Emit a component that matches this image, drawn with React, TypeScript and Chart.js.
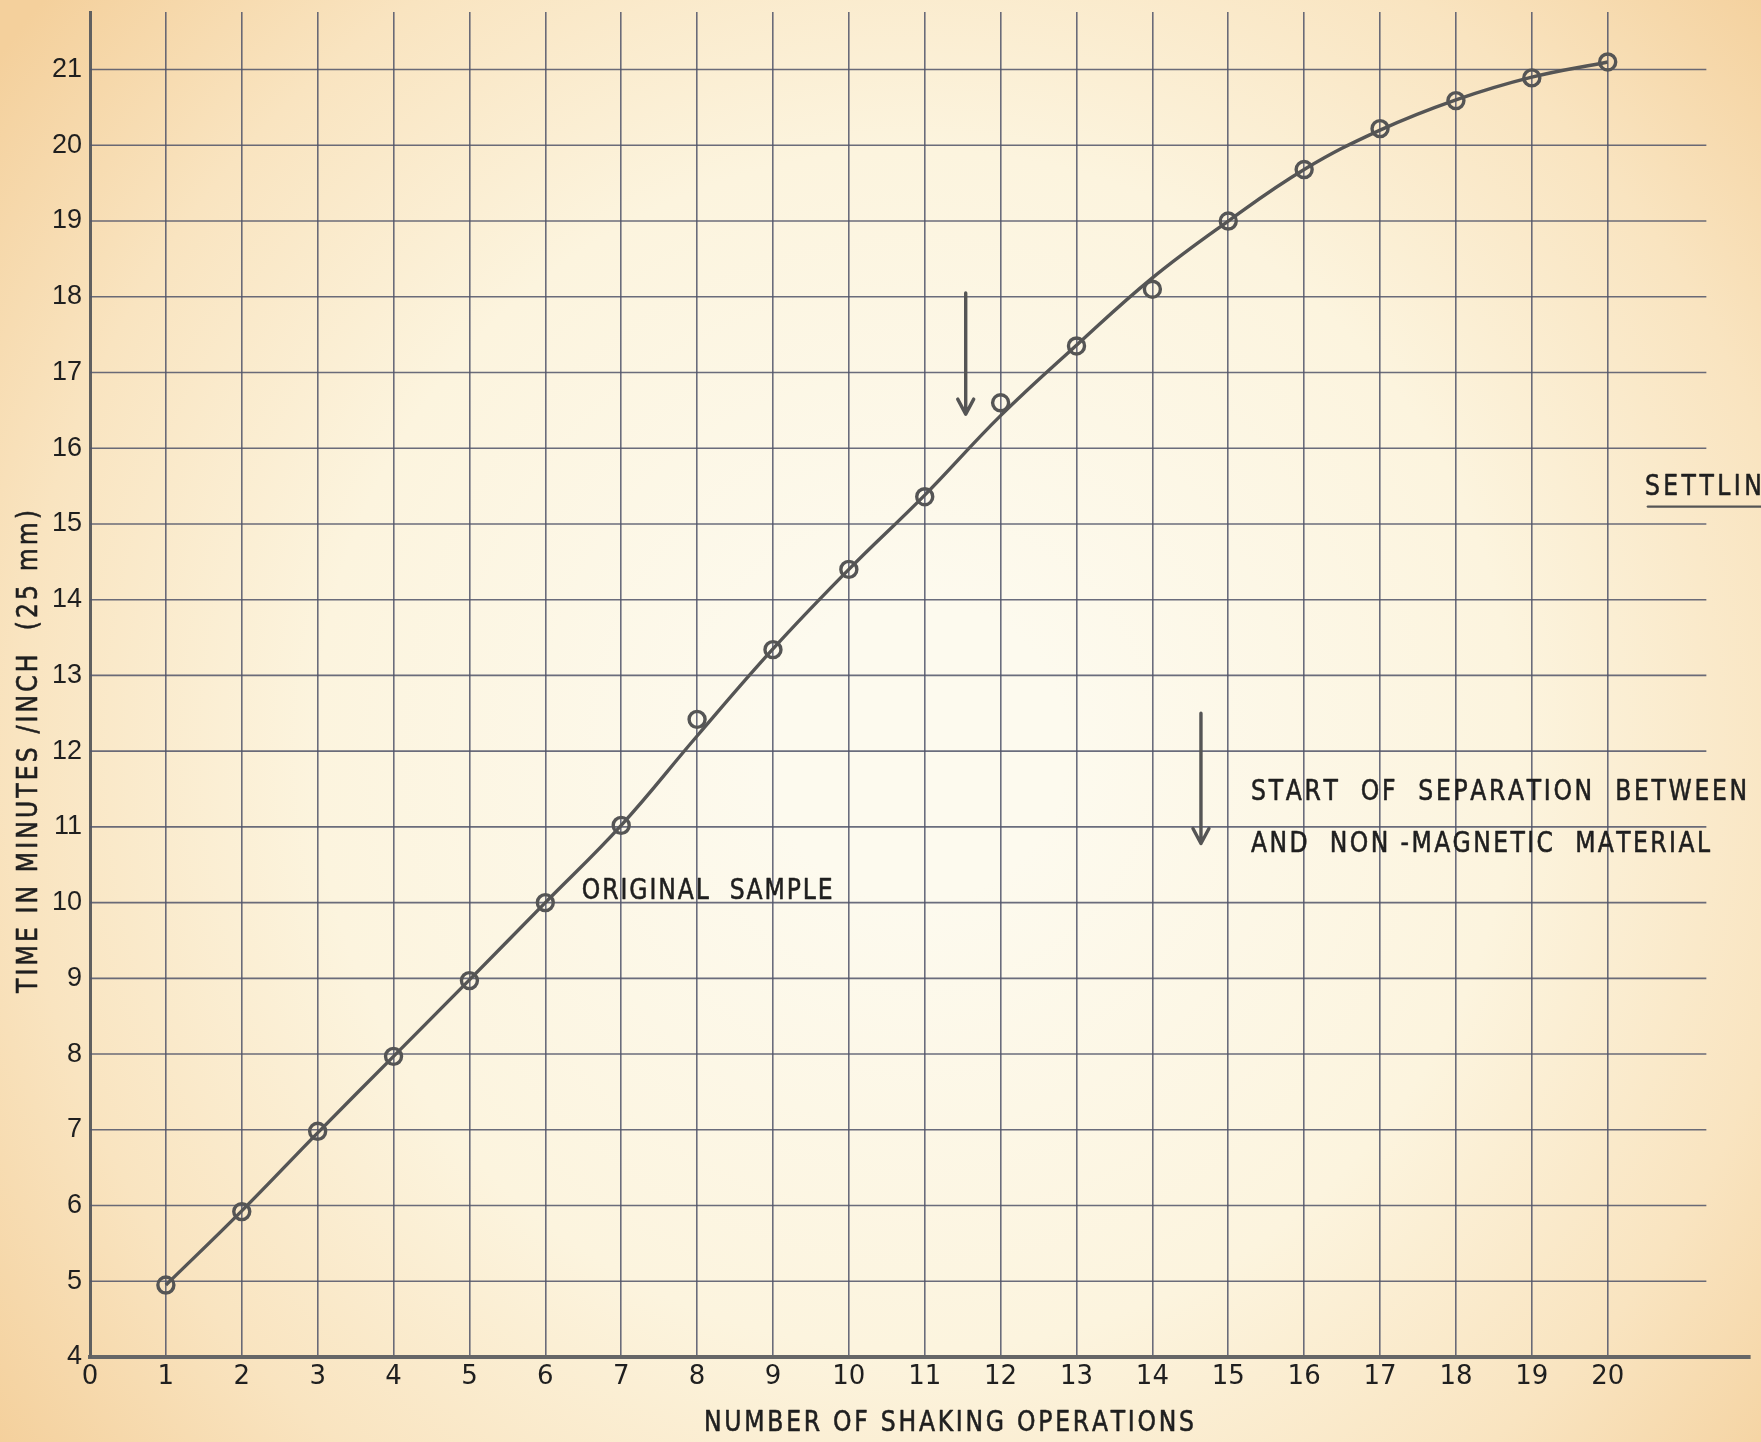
import React, { useEffect, useRef } from 'react';
import { Chart, registerables } from 'chart.js';

Chart.register(...registerables);

// ---- data ----
const SHAKES = [1, 2, 3, 4, 5, 6, 7, 8, 9, 10, 11, 12, 13, 14, 15, 16, 17, 18, 19, 20];
const MEASURED = [4.95, 5.92, 6.98, 7.97, 8.97, 10.0, 11.02, 12.42, 13.34, 14.4, 15.36, 16.6, 17.35, 18.1, 19.0, 19.68, 20.22, 20.59, 20.89, 21.1];
const FITTED = [4.95, 5.93, 6.96, 7.97, 8.98, 10.0, 11.02, 12.2, 13.35, 14.4, 15.38, 16.43, 17.36, 18.25, 19.0, 19.68, 20.2, 20.6, 20.9, 21.1];
const X_MIN = 0;
const X_MAX = 21.87;
const X_LAST_TICK = 20;
const Y_MIN = 4;
const Y_MAX = 21.76;
const Y_LAST_TICK = 21;
const HGRID_END = 21.3;

const X_TITLE = 'NUMBER OF SHAKING OPERATIONS';
const Y_TITLE = 'TIME IN MINUTES /INCH  (25 mm)';

// annotation arrows (data units)
const ARROW_X = [11.54, 14.64];
const ARROW_FROM = [18.05, 12.5];
const ARROW_TO = [16.45, 10.78];

// annotation notes (left edge x, centre y in data units, text width in px)
const NOTE_TEXT = ['ORIGINAL  SAMPLE', 'START  OF  SEPARATION  BETWEEN', 'AND  NON -MAGNETIC  MATERIAL', 'SETTLIN'];
const NOTE_X = [6.48, 15.3, 15.3, 20.49];
const NOTE_Y = [10.14, 11.45, 10.77, 15.48];
const NOTE_W = [251, 496, 459, 117];

const FONT = '"Liberation Sans Narrow", "DejaVu Sans", "Liberation Sans", sans-serif';
const INK = '#1f1f1f';
const GRID = 'rgba(80, 84, 104, 0.85)';
const CURVE = '#555555';

function drawSpaced(ctx: CanvasRenderingContext2D, text: string, left: number, y: number, width: number, size: number) {
  ctx.font = `${size}px ${FONT}`;
  const sx = 0.84;
  const chars = [...text];
  const widths = chars.map((c) => ctx.measureText(c).width * sx);
  const sum = widths.reduce((a, b) => a + b, 0);
  const gap = chars.length > 1 ? (width - sum) / (chars.length - 1) : 0;
  let x = left;
  ctx.textBaseline = 'middle';
  ctx.textAlign = 'left';
  ctx.fillStyle = INK;
  ctx.strokeStyle = INK;
  ctx.lineWidth = 0.6;
  chars.forEach((c, i) => {
    ctx.save();
    ctx.translate(x, y);
    ctx.scale(sx, 1);
    ctx.fillText(c, 0, 0);
    ctx.strokeText(c, 0, 0);
    ctx.restore();
    x += widths[i] + gap;
  });
}

const paperPlugin = {
  id: 'paper',
  beforeDraw(chart: any) {
    const { ctx, width, height } = chart;
    ctx.save();
    const g = ctx.createRadialGradient(width * 0.52, height * 0.52, 150, width * 0.52, height * 0.52, 1150);
    g.addColorStop(0, '#fdfaee');
    g.addColorStop(0.45, '#fcf4de');
    g.addColorStop(0.75, '#f9e4c0');
    g.addColorStop(1, '#f4d09c');
    ctx.fillStyle = g;
    ctx.fillRect(0, 0, width, height);
    ctx.restore();
  },
};

const gridPlugin = {
  id: 'hgrid',
  beforeDatasetsDraw(chart: any) {
    const { ctx } = chart;
    const xs = chart.scales.x;
    const ys = chart.scales.y;
    ctx.save();
    ctx.strokeStyle = GRID;
    ctx.lineWidth = 1.6;
    const x0 = xs.getPixelForValue(X_MIN);
    const x1 = xs.getPixelForValue(HGRID_END);
    for (let v = Y_MIN + 1; v <= Y_LAST_TICK; v++) {
      const y = ys.getPixelForValue(v);
      ctx.beginPath();
      ctx.moveTo(x0, y);
      ctx.lineTo(x1, y);
      ctx.stroke();
    }
    ctx.restore();
  },
};

const notesPlugin = {
  id: 'notes',
  afterDatasetsDraw(chart: any) {
    const { ctx } = chart;
    const xs = chart.scales.x;
    const ys = chart.scales.y;
    ctx.save();
    // arrows
    ctx.strokeStyle = '#555555';
    ctx.lineWidth = 3.4;
    ctx.lineCap = 'round';
    ctx.lineJoin = 'round';
    ARROW_X.forEach((ax, i) => {
      const px = xs.getPixelForValue(ax);
      const y0 = ys.getPixelForValue(ARROW_FROM[i]);
      const y1 = ys.getPixelForValue(ARROW_TO[i]);
      ctx.beginPath();
      ctx.moveTo(px, y0);
      ctx.lineTo(px, y1);
      ctx.moveTo(px - 8, y1 - 15);
      ctx.lineTo(px, y1);
      ctx.lineTo(px + 8, y1 - 15);
      ctx.stroke();
    });
    // notes
    NOTE_TEXT.forEach((t, i) => {
      drawSpaced(ctx, t, xs.getPixelForValue(NOTE_X[i]), ys.getPixelForValue(NOTE_Y[i]), NOTE_W[i], 28);
    });
    // underline of SETTLIN
    const ux = xs.getPixelForValue(NOTE_X[3]);
    const uy = ys.getPixelForValue(NOTE_Y[3]) + 19;
    ctx.strokeStyle = '#555555';
    ctx.lineWidth = 2.4;
    ctx.beginPath();
    ctx.moveTo(ux + 3, uy);
    ctx.lineTo(chart.width, uy);
    ctx.stroke();
    // axis titles
    const area = chart.chartArea;
    drawSpaced(ctx, X_TITLE, area.left + 614, chart.height - 18, 490, 28);
    ctx.translate(30, 752);
    ctx.rotate(-Math.PI / 2);
    drawSpaced(ctx, Y_TITLE, -241, 0, 483, 28);
    ctx.restore();
  },
};

export default function App() {
  const ref = useRef<HTMLCanvasElement | null>(null);

  useEffect(() => {
    document.body.style.margin = '0';
    const canvas = ref.current;
    if (!canvas) return;
    const chart = new Chart(canvas, {
      type: 'line',
      data: {
        datasets: [
          {
            label: 'fitted',
            data: SHAKES.map((x, i) => ({ x, y: FITTED[i] })),
            borderColor: CURVE,
            borderWidth: 3.4,
            pointRadius: 0,
            tension: 0.4,
            fill: false,
          },
          {
            label: 'measured',
            data: SHAKES.map((x, i) => ({ x, y: MEASURED[i] })),
            showLine: false,
            borderColor: '#555555',
            backgroundColor: 'rgba(0,0,0,0)',
            pointStyle: 'circle',
            pointRadius: 8,
            pointBorderWidth: 3.4,
            pointBorderColor: '#555555',
            pointBackgroundColor: 'rgba(0,0,0,0)',
          },
        ],
      },
      options: {
        responsive: false,
        animation: false,
        events: [],
        layout: { padding: { top: 12, left: 0, right: 0, bottom: 0 } },
        plugins: {
          legend: { display: false },
          tooltip: { enabled: false },
          title: { display: false },
        },
        scales: {
          x: {
            type: 'linear',
            position: 'bottom',
            min: X_MIN,
            max: X_MAX,
            afterFit: (s: any) => {
              s.height = 85;
              s.paddingLeft = 0;
              s.paddingRight = 0;
            },
            ticks: {
              stepSize: 1,
              autoSkip: false,
              maxRotation: 0,
              padding: 5,
              color: INK,
              font: { family: FONT, size: 26 },
              callback: (v: any) => (Number(v) <= X_LAST_TICK && Number.isInteger(Number(v)) ? String(v) : ''),
            },
            grid: {
              drawTicks: false,
              lineWidth: 1.6,
              color: (c: any) => {
                const v = c.tick ? c.tick.value : -1;
                return v >= 1 && v <= X_LAST_TICK ? GRID : 'rgba(0,0,0,0)';
              },
            },
            border: { display: true, color: '#666666', width: 4 },
          },
          y: {
            type: 'linear',
            min: Y_MIN,
            max: Y_MAX,
            afterFit: (s: any) => {
              s.width = 90;
              s.paddingTop = 0;
              s.paddingBottom = 0;
            },
            ticks: {
              stepSize: 1,
              autoSkip: false,
              padding: 8,
              color: INK,
              font: { family: '"Liberation Sans", "DejaVu Sans", sans-serif', size: 27 },
              callback: (v: any) => (Number.isInteger(Number(v)) && Number(v) <= Y_LAST_TICK ? String(v) : ''),
            },
            grid: { display: false, drawTicks: false },
            border: { display: true, color: '#606060', width: 3 },
          },
        },
      },
      plugins: [paperPlugin, gridPlugin, notesPlugin],
    } as any);
    return () => chart.destroy();
  }, []);

  return (
    <div style={{ position: 'absolute', left: 0, top: 0, width: 1761, height: 1442 }}>
      <canvas ref={ref} width={1761} height={1442} />
    </div>
  );
}
